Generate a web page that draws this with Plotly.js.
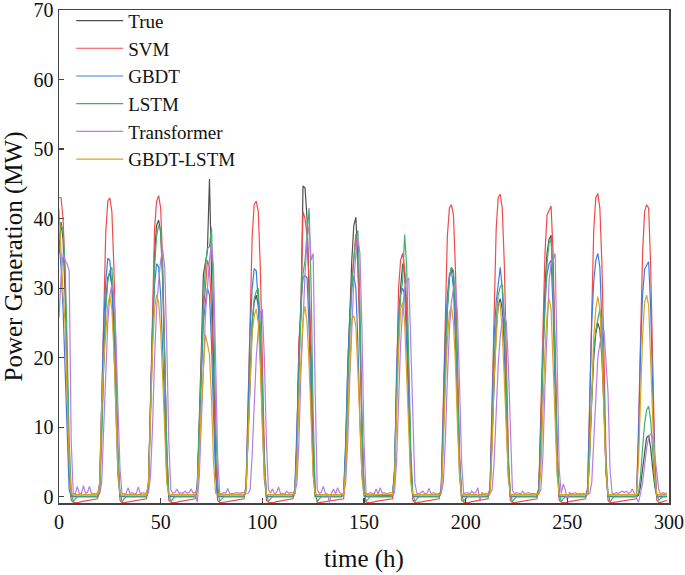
<!DOCTYPE html>
<html>
<head>
<meta charset="utf-8">
<script src="https://cdn.plot.ly/plotly-3.0.1.min.js"></script>
<style>html,body{margin:0;padding:0;background:#fff;}#chart{width:685px;height:575px;}</style>
</head>
<body>
<div id="chart"></div>
<script>
// hourly values, hours 0..299
const trueVals = [
35,39.5,37,29,17,4,0, 0,0,0,0,0,0,0,0,0,0,0,0,0, 1.5,11,21.5,28,
31.5,32.2,30.5,25,15.5,5,0, 0,0,0,0,0,0,0,0,0,0,0,0,0, 2,14,26.5,35,
39,39.8,38,31,19,6.5,0, 0,0,0,0,0,0,0,0,0,0,0,0,0, 1.5,10,21,31.9,
33.5,35.4,45.7,33,20,6,0, 0,0,0,0,0,0,0,0,0,0,0,0,0, 1,10,19,25,
28,29,27.5,22.5,14,4.5,0, 0,0,0,0,0,0,0,0,0,0,0,0,0, 1,8,22,26,
44.7,44.4,40,30,19,6,0, 0,0,0,0,0,0,0,0,0,0,0,0,0, 0.5,7,18,27.6,
34,39,40.2,34,24,10,1, 0,0,0,0,0,0,0,0,0,0,0,0,0, 0,4,16,25,
30,33.5,32,26,16,5,0, 0,0,0,0,0,0,0,0,0,0,0,0,0, 1,10,20,27,
31.5,33,32,26,16,5,0, 0,0,0,0,0,0,0,0,0,0,0,0,0, 1,9,18,24,
27.5,28.5,27,22,13.5,4,0, 0,0,0,0,0,0,0,0,0,0,0,0,0, 1,10,22,30,
35,37,37.6,31,20,6,0, 0,0,0,0,0,0,0,0,0,0,0,0,0, 0.5,6,14,20,
23.5,25,24,20,13,4,0, 0,0,0,0,0,0,0,0,0,0,0,0,0, 0,0.2,1.5,4,
6.5,8.5,8.8,7,4,1.5,0, 0,0,0,0,0
];
const svmVals = [
43,43,40,32,19,5,-0.5, -0.8,-0.85,-0.85,-0.8,-0.7,-0.65,-0.6,-0.55,-0.5,-0.45,-0.4,-0.35,-0.3, 1.5,15,28.5,38,
42.5,43,41,33,20,6,-0.5, -0.85,-0.85,-0.8,-0.75,-0.7,-0.6,-0.55,-0.5,-0.45,-0.4,-0.4,-0.35,-0.3, 1.5,15,29,38.5,
42.5,43.3,41.5,33.5,20.5,6,-0.5, -0.8,-0.85,-0.85,-0.8,-0.7,-0.65,-0.6,-0.55,-0.5,-0.45,-0.4,-0.35,-0.3, 1,10,20,27,
30,34,33,27,17,5,-0.5, -0.85,-0.85,-0.8,-0.75,-0.7,-0.6,-0.55,-0.5,-0.45,-0.4,-0.4,-0.35,-0.3, 1.5,14,28,37.5,
42,42.5,41,33,20,6,-0.5, -0.8,-0.85,-0.85,-0.8,-0.7,-0.65,-0.6,-0.55,-0.5,-0.45,-0.4,-0.35,-0.3, 0.5,7,22,28,
41,40,37.5,31,20,7,0.5, -0.85,-0.85,-0.8,-0.75,-0.7,-0.6,-0.55,-0.5,-0.45,-0.4,-0.4,-0.35,-0.3, -0.3,6,16,25,
31,35,37.8,33,23,9,0.5, -0.8,-0.85,-0.85,-0.8,-0.7,-0.65,-0.6,-0.55,-0.5,-0.45,-0.4,-0.35,-0.3, -0.3,2,17,30,
34,35,33,27,17,5,-0.5, -0.85,-0.85,-0.8,-0.75,-0.7,-0.6,-0.55,-0.5,-0.45,-0.4,-0.4,-0.35,-0.3, 1.5,14,28,37.5,
41.5,42,40.5,32.5,19.5,6,-0.5, -0.8,-0.85,-0.85,-0.8,-0.7,-0.65,-0.6,-0.55,-0.5,-0.45,-0.4,-0.35,-0.3, 1.5,15,29,38.5,
43,43.5,41.5,33.5,20.5,6,-0.5, -0.85,-0.85,-0.8,-0.75,-0.7,-0.6,-0.55,-0.5,-0.45,-0.4,-0.4,-0.35,-0.3, 1.5,13,27,35,
40.5,41.2,41.8,35,22,7,-0.5, -0.8,-0.85,-0.85,-0.8,-0.7,-0.65,-0.6,-0.55,-0.5,-0.45,-0.4,-0.35,-0.3, 1.5,15,29,38.5,
43,43.6,41.5,33.5,20.5,6,-0.5, -0.85,-0.85,-0.8,-0.75,-0.7,-0.6,-0.55,-0.5,-0.45,-0.4,-0.4,-0.35,-0.3, -0.3,10,24,35,
41,42,41.5,33,19,6,-0.5, -0.8,-0.8,-0.7,-0.6,-0.5
];
const gbdtVals = [
37,33,27,18,8,1,0.1, 0.1,0.1,0.1,0.1,0.1,0.1,0.1,0.1,0.1,0.1,0.1,0.1,0.1, 2,14,25,31,
34.3,34,30,22,12,3,0.1, 0.1,0.1,0.1,0.1,0.1,0.1,0.1,0.1,0.1,0.1,0.1,0.1,0.1, 2,13,24,30.5,
33.5,33,29,21,11,3,0.1, 0.1,0.1,0.1,0.1,0.1,0.1,0.1,0.1,0.1,0.1,0.1,0.1,0.1, 1.5,10,19,25,
28,30,29,22,12,3,0.1, 0.1,0.1,0.1,0.1,0.1,0.1,0.1,0.1,0.1,0.1,0.1,0.1,0.1, 1.5,13,24,30,
32.8,32.5,28,20,10,2.5,0.1, 0.1,0.1,0.1,0.1,0.1,0.1,0.1,0.1,0.1,0.1,0.1,0.1,0.1, 1,10,22,28,
31.5,31.8,31.5,24,13,3.5,0.1, 0.1,0.1,0.1,0.1,0.1,0.1,0.1,0.1,0.1,0.1,0.1,0.1,0.1, 0.5,8,19,26,
30,31.8,30,22,11,3,0.1, 0.1,0.1,0.1,0.1,0.1,0.1,0.1,0.1,0.1,0.1,0.1,0.1,0.1, 0.2,3,18,26,
29,30,29,22,12,3,0.1, 0.1,0.1,0.1,0.1,0.1,0.1,0.1,0.1,0.1,0.1,0.1,0.1,0.1, 1,11,23,29,
32,32.5,30,22,11,3,0.1, 0.1,0.1,0.1,0.1,0.1,0.1,0.1,0.1,0.1,0.1,0.1,0.1,0.1, 1,11,23,28,
30.6,33,30,22,11,3,0.1, 0.1,0.1,0.1,0.1,0.1,0.1,0.1,0.1,0.1,0.1,0.1,0.1,0.1, 1,9,21,28,
32,33.5,34,27,15,4,0.1, 0.1,0.1,0.1,0.1,0.1,0.1,0.1,0.1,0.1,0.1,0.1,0.1,0.1, 1,12,25,31,
34,35,33,25,13,3.5,0.1, 0.1,0.1,0.1,0.1,0.1,0.1,0.1,0.1,0.1,0.1,0.1,0.1,0.1, 0.1,8,21,29,
32.7,33.3,33.8,27,15,4,0.1, 0.1,0.1,0.1,0.1,0.1
];
const lstmVals = [
37,39,38.5,33,22,8,1, -0.7,-0.3,0,0,0,0,0,0,0,0,0,0,0, 0.5,8,19,27,
31,32.5,33,28,18,6,0.5, -0.7,-0.3,0,0,0,0,0,0,0,0,0,0,0, 1,11,24,33,
37.5,39,38.5,32,20,7,0.5, -0.7,-0.3,0,0,0,0,0,0,0,0,0,0,0, 1,9,19,28,
33,35.7,36,38.7,28,12,2, -0.7,-0.3,0,0,0,0,0,0,0,0,0,0,0, 1,9,19,25,
28.5,29.5,30,25,15,5,0.5, -0.7,-0.3,0,0,0,0,0,0,0,0,0,0,0, 0.5,5,17,27,
32,34,38,41.5,30,12,1, -0.7,-0.3,0,0,0,0,0,0,0,0,0,0,0, 0.3,6,16,24,
30,34,37,38.3,28,11,1, -0.7,-0.3,0,0,0,0,0,0,0,0,0,0,0, 0.2,3,14,24,
29,31,37.7,33,20,7,0.5, -0.7,-0.3,0,0,0,0,0,0,0,0,0,0,0, 0.5,9,20,27,
31.5,33,32.5,27,16,5,0.5, -0.7,-0.3,0,0,0,0,0,0,0,0,0,0,0, 0.5,8,19,25.5,
29,30.2,30.5,26,16,5,0.5, -0.7,-0.3,0,0,0,0,0,0,0,0,0,0,0, 0.5,8,20,28,
33.5,36.5,37,31,19,6,0.5, -0.7,-0.3,0,0,0,0,0,0,0,0,0,0,0, 0.5,7,15,21,
24,25.5,27,24,15,5,0.5, -0.7,-0.3,0,0,0,0,0,0,0,0,0,0,0, 0,0.5,3,7,
10.5,12.5,13,11,6,2,0.3, -0.5,-0.2,0,0,0
];
const transformerVals = [
25.7,31.5,35,34,33.5,32.5,8,0.5, 0.4,1.5,0.5,0.4,1.6,0.5,0.6,1.5,0.4,0.5,0.4,0.6, 0.5,2,10,19,
25,29,30.5,29,23,13,4,0.5, 0.4,0.5,1.3,0.4,0.6,0.4,0.5,1.4,0.4,0.6,0.5,0.6, 0.5,3,10,20,
27,31,34,35.5,33,22,8,1, 0.5,0.6,1.1,0.5,0.6,0.5,0.8,0.5,0.6,1.1,0.5,0.6, -0.8,3,10,19,
26,30,34,36.5,33,20,6,0.5, 0.4,0.6,0.5,1.2,0.4,0.5,0.4,0.6,0.5,0.5,0.6,0.5, 0.5,0.5,1,6,
14,20,24,26.5,27,20,8,1, 0.5,1.1,0.4,0.6,1.4,0.4,0.5,0.4,0.8,0.5,0.6,0.5, 0.5,2,8,18,
26,32,37,39,34,35,15,1, 0.5,0.6,1.5,0.5,0.4,-0.8,0.5,1.1,0.4,1.3,0.6,0.4, 0.3,2,8,17,
25,31,35,37.3,35,24,8,0.5, 0.4,0.6,0.5,0.4,1.1,0.4,1.3,0.5,0.6,0.4,0.5,0.6, 0.5,0.5,5,14,
22,27,30,31,31.5,22,10,2,0.5, 0.4,0.6,0.8,0.4,0.5,1.2,0.4,0.6,0.5,0.4,0.5, 0.5,2,8,17,
24,28,30,30.5,26,16,5,0.5, 0.5,0.6,0.4,0.8,0.5,0.6,1.3,-0.6,0.6,0.4,0.5,0.5, 0.5,1,5,12,
19,23,25.5,26.5,25,19,9,1, 0.4,0.6,0.5,0.4,0.8,0.4,0.5,0.6,0.4,0.5,0.4,0.5, 0.5,1,6,16,
25,31,33.5,34,35,20,4,0.5, 1.8,1.0,-0.5,0.6,0.4,0.5,0.6,0.4,0.5,0.4,0.5,0.4, 0.3,0.5,2,8,
15,20,22,23.5,24,20,15,4,0.5, 0.4,0.6,0.5,0.6,0.8,0.6,0.8,0.5,0.6,1.1,0.5, -0.3,-0.8,0.5,2,
4.5,7,8.5,9.1,8.5,6,3,1,0.3,0.6,0.4,0.6
];
const gbdtLstmVals = [
41.4,35,29,25,16,5,0.5, 0.3,0.3,0.3,0.3,0.3,0.3,0.3,0.3,0.3,0.3,0.3,0.3,0.3, 2,13,19.5,24,
27.5,29,27,21,12,3.5,0.4, 0.3,0.3,0.3,0.3,0.3,0.3,0.3,0.3,0.3,0.3,0.3,0.3,0.3, 2,12,21,27,
29,28,24,17,9,2,0.3, 0.3,0.3,0.3,0.3,0.3,0.3,0.3,0.3,0.3,0.3,0.3,0.3,0.3, 1,6,13,19,
23.3,22,20.5,14,5,0.5,0.3, 0.3,0.3,0.3,0.3,0.3,0.3,0.3,0.3,0.3,0.3,0.3,0.3,0.3, 1,9,18,23.5,
26,27,25,19,10,3,0.3, 0.3,0.3,0.3,0.3,0.3,0.3,0.3,0.3,0.3,0.3,0.3,0.3,0.3, 0.5,5,14,21,
25.5,27.4,25,19,11,3,0.3, 0.3,0.3,0.3,0.3,0.3,0.3,0.3,0.3,0.3,0.3,0.3,0.3,0.3, 0.3,4,12,20,
25.5,26,24.5,18,10,3,0.3, 0.3,0.3,0.3,0.3,0.3,0.3,0.3,0.3,0.3,0.3,0.3,0.3,0.3, 0.3,2,12,21,
27,28,25,18,9,2,0.3, 0.3,0.3,0.3,0.3,0.3,0.3,0.3,0.3,0.3,0.3,0.3,0.3,0.3, 0.5,7,16,22.5,
26.5,27.3,25,19,10,3,0.3, 0.3,0.3,0.3,0.3,0.3,0.3,0.3,0.3,0.3,0.3,0.3,0.3,0.3, 0.5,7,17,23.5,
28,27.5,24,17,9,2.5,0.3, 0.3,0.3,0.3,0.3,0.3,0.3,0.3,0.3,0.3,0.3,0.3,0.3,0.3, 0.3,4,13,21,
26,28.5,27,20,11,3,0.3, 0.3,0.3,0.3,0.3,0.3,0.3,0.3,0.3,0.3,0.3,0.3,0.3,0.3, 0.3,6,16,23,
27,28.8,27,21,12,4,0.3, 0.3,0.3,0.3,0.3,0.3,0.3,0.3,0.3,0.3,0.3,0.3,0.3,0.3, 0.3,5,15,23,
28,29,27.5,20,10,3,0.3, 0.3,0.3,0.3,0.3,0.3
];
const seriesNames = ['True', 'SVM', 'GBDT', 'LSTM', 'Transformer', 'GBDT-LSTM'];
const seriesColors = ['#505050', '#f24a4a', '#3b7ddd', '#3fb06e', '#b47ee5', '#d9a31c'];
const xTickVals = [0, 50, 100, 150, 200, 250, 300];
const yTickVals = [0, 10, 20, 30, 40, 50, 60, 70];

const allVals = [trueVals, svmVals, gbdtVals, lstmVals, transformerVals, gbdtLstmVals];
const hours = trueVals.map((_, i) => i);
const font = 'Liberation Serif, Times New Roman, serif';

const traces = allVals.map((vals, k) => ({
  x: hours, y: vals, type: 'scatter', mode: 'lines',
  name: seriesNames[k],
  line: {color: seriesColors[k], width: 1.2}
}));

const axisCommon = {
  showgrid: false, zeroline: false, showline: true, mirror: true,
  linecolor: '#444', linewidth: 1.5, ticks: 'inside', ticklen: 5,
  tickcolor: '#444', tickwidth: 1.2, ticklabeloverflow: 'allow',
  tickfont: {family: font, size: 20, color: '#111'}
};

const layout = {
  width: 685, height: 575,
  margin: {l: 59, r: 16, t: 10, b: 72, autoexpand: false},
  paper_bgcolor: '#fff', plot_bgcolor: '#fff',
  showlegend: true,
  legend: {x: 0.02, y: 0.997, yref: 'container', xanchor: 'left', yanchor: 'top',
    font: {family: font, size: 19, color: '#111'}, bgcolor: 'rgba(0,0,0,0)',
    itemwidth: 47, tracegroupgap: 0},
  xaxis: Object.assign({}, axisCommon, {
    range: [0, 300], tickvals: xTickVals,
    title: {text: 'time (h)', font: {family: font, size: 25, color: '#111'}, standoff: 18}
  }),
  yaxis: Object.assign({}, axisCommon, {
    range: [-0.9, 70], tickvals: yTickVals,
    title: {text: 'Power Generation (MW)', font: {family: font, size: 25, color: '#111'}, standoff: 6}
  })
};

Plotly.newPlot('chart', traces, layout, {displayModeBar: false, staticPlot: true});
</script>
</body>
</html>
